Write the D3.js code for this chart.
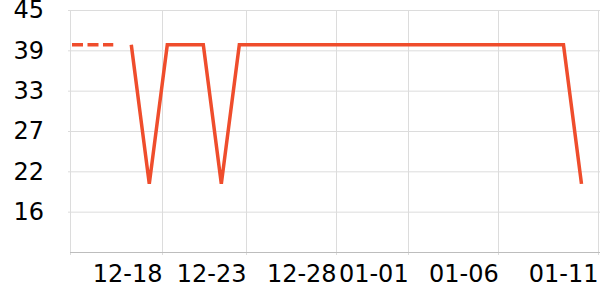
<!DOCTYPE html>
<html>
<head>
<meta charset="utf-8">
<script src="https://cdn.jsdelivr.net/npm/d3@7"></script>
<style>
  body { margin: 0; background: #fff; }
  text { font-family: "DejaVu Sans", sans-serif; }
</style>
</head>
<body>
<div id="chart"></div>
<script>
// tamaño del svg
const width = 600,
  height = 300;
const margin = { top: 10, right: 0, bottom: 48, left: 70 };
const innerWidth = width - margin.left - margin.right;
const innerHeight = height - margin.top - margin.bottom;

const parse = d3.timeParse("%Y-%m-%d %H:%M");

// serie principal (un punto diario)
const dates = [
  "2023-12-16 15:00", "2023-12-17 15:00", "2023-12-18 15:00", "2023-12-19 15:00",
  "2023-12-20 15:00", "2023-12-21 15:00", "2023-12-22 15:00", "2023-12-23 15:00",
  "2023-12-24 15:00", "2023-12-25 15:00", "2023-12-26 15:00", "2023-12-27 15:00",
  "2023-12-28 15:00", "2023-12-29 15:00", "2023-12-30 15:00", "2023-12-31 15:00",
  "2024-01-01 15:00", "2024-01-02 15:00", "2024-01-03 15:00", "2024-01-04 15:00",
  "2024-01-05 15:00", "2024-01-06 15:00", "2024-01-07 15:00", "2024-01-08 15:00",
  "2024-01-09 15:00", "2024-01-10 15:00"
];
const values = [
  40, 20, 40, 40, 40, 20, 40, 40, 40, 40, 40, 40, 40,
  40, 40, 40, 40, 40, 40, 40, 40, 40, 40, 40, 40, 20
];

// tramo punteado al inicio
const dashedDates = ["2023-12-13 08:00", "2023-12-15 15:00"];
const dashedValues = [40, 40];

// dominio y marcas de los ejes
const xDomain = ["2023-12-13 05:20", "2024-01-11 15:40"];
const xTickDates = ["2023-12-18 08:00", "2023-12-23 00:00", "2023-12-28 00:00",
  "2024-01-01 00:00", "2024-01-06 00:00", "2024-01-11 13:00"];
const yDomain = [10.2, 45];
const yTickValues = [16, 21.8, 27.6, 33.4, 39.2, 45];
const yTickLabels = ["16", "22", "27", "33", "39", "45"];

const lineColor = "#ef4d2c";

const data = dates.map((d, i) => ({ date: parse(d), value: values[i] }));
const dashedData = dashedDates.map((d, i) => ({ date: parse(d), value: dashedValues[i] }));

const xScale = d3.scaleTime()
  .domain(xDomain.map(parse))
  .range([0, innerWidth]);

const yScale = d3.scaleLinear()
  .domain(yDomain)
  .range([innerHeight, 0]);

const svg = d3.select("#chart")
  .append("svg")
  .attr("width", width)
  .attr("height", height);

const mainG = svg.append("g")
  .attr("transform", `translate(${margin.left},${margin.top})`);

// rejilla horizontal
mainG.append("g")
  .selectAll("line")
  .data(yTickValues)
  .join("line")
  .attr("x1", -2)
  .attr("x2", innerWidth)
  .attr("y1", d => yScale(d) + 0.5)
  .attr("y2", d => yScale(d) + 0.5)
  .attr("stroke", "#dcdcdc")
  .attr("stroke-width", 1);

// rejilla vertical (incluye el borde izquierdo)
const xTicks = xTickDates.map(parse);
mainG.append("g")
  .selectAll("line")
  .data([xDomain[0]].map(parse).concat(xTicks))
  .join("line")
  .attr("x1", d => Math.round(xScale(d)) + 0.5)
  .attr("x2", d => Math.round(xScale(d)) + 0.5)
  .attr("y1", 0)
  .attr("y2", innerHeight + 3)
  .attr("stroke", "#dcdcdc")
  .attr("stroke-width", 1);

// eje x
const xAxis = d3.axisBottom(xScale)
  .tickValues(xTicks)
  .tickFormat(d3.timeFormat("%m-%d"))
  .tickSize(0)
  .tickPadding(13);

const gx = mainG.append("g")
  .attr("transform", `translate(0,${innerHeight})`)
  .call(xAxis);
gx.select(".domain")
  .attr("stroke", "#bdbdbd")
  .attr("d", `M0,0.5H${innerWidth}`);
gx.selectAll("text")
  .attr("text-anchor", "end")
  .attr("fill", "#000")
  .style("font-size", "24px");

// eje y
const yAxis = d3.axisLeft(yScale)
  .tickValues(yTickValues)
  .tickFormat((d, i) => yTickLabels[i])
  .tickSize(0)
  .tickPadding(26);

const gy = mainG.append("g").call(yAxis);
gy.select(".domain").remove();
gy.selectAll("text")
  .attr("fill", "#000")
  .style("font-size", "24px");

// lineas
const line = d3.line()
  .x(d => xScale(d.date))
  .y(d => yScale(d.value));

mainG.append("path")
  .datum(dashedData)
  .attr("fill", "none")
  .attr("stroke", lineColor)
  .attr("stroke-width", 3.5)
  .attr("stroke-dasharray", "11,4.5")
  .attr("d", line);

mainG.append("path")
  .datum(data)
  .attr("fill", "none")
  .attr("stroke", lineColor)
  .attr("stroke-width", 3.5)
  .attr("stroke-linejoin", "miter")
  .attr("d", line);
</script>
</body>
</html>
